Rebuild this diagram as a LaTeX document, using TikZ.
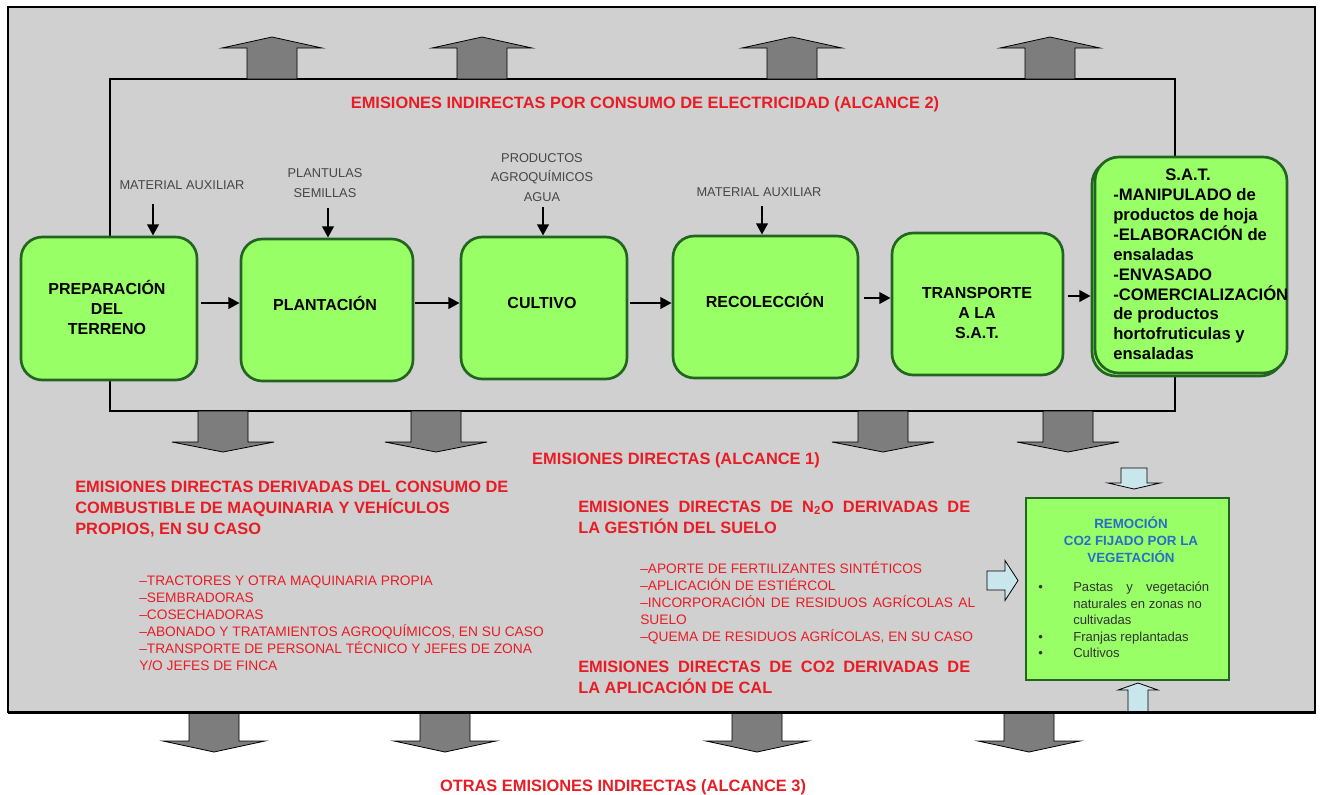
\documentclass[tikz,border=0pt]{standalone}
\usepackage{fontspec}
\setmainfont{Liberation Sans}
\usetikzlibrary{arrows.meta,calc}
\definecolor{bggray}{RGB}{208,208,208}
\definecolor{arrgray}{RGB}{125,125,125}
\definecolor{boxgreen}{RGB}{153,255,102}
\definecolor{boxline}{RGB}{35,100,35}
\definecolor{emred}{RGB}{232,28,36}
\definecolor{lblue}{RGB}{200,230,235}
\definecolor{remblue}{RGB}{40,110,200}
\definecolor{lblgray}{RGB}{70,70,70}
\newdimen\pxu \pxu=0.75pt
\newcommand\vblock[7]{% style, cx, base y, head-base y, tip y, shaft half, head half
  \filldraw[#1] ({#2-#6},#3) -- ({#2-#6},#4) -- ({#2-#7},#4) -- (#2,#5) -- ({#2+#7},#4) -- ({#2+#6},#4) -- ({#2+#6},#3) -- cycle;}
\newcommand\hblock[7]{% style, cy, base x, head-base x, tip x, shaft half, head half
  \filldraw[#1] (#3,{#2-#6}) -- (#4,{#2-#6}) -- (#4,{#2-#7}) -- (#5,#2) -- (#4,{#2+#7}) -- (#4,{#2+#6}) -- (#3,{#2+#6}) -- cycle;}
\tikzset{
  gbox/.style={draw=boxline, fill=boxgreen, line width=2pt, rounded corners=16pt, inner sep=0pt},
  gtext/.style={inner sep=0pt, align=center, font=\bfseries\fontsize{12}{15}\selectfont},
  sattext/.style={inner sep=0pt, align=left, font=\bfseries\fontsize{12.5}{14.9}\selectfont},
  rbox/.style={draw=boxline, fill=boxgreen, line width=2.2pt, inner sep=0pt},
  remt/.style={inner sep=0pt, align=center, text=remblue, font=\bfseries\fontsize{10}{13}\selectfont},
  remlist/.style={inner sep=0pt, align=left, text=black!80, font=\fontsize{9.8}{12.4}\selectfont},
  redh/.style={text=emred, inner sep=0pt, font=\bfseries\fontsize{12.3}{15.75}\selectfont},
  redi/.style={text=emred, inner sep=0pt, align=left, font=\fontsize{10.3}{12.8}\selectfont},
  lbl/.style={text=lblgray, inner sep=0pt, font=\fontsize{9.6}{14.6}\selectfont},
  flow/.style={line width=2.1pt, -{Triangle[length=8.5pt,width=8.5pt]}},
  garr/.style={fill=arrgray, draw=black, line width=0.6pt},
  barr/.style={fill=lblue, draw=black, line width=0.6pt},
}
\begin{document}
\begin{tikzpicture}[x=0.75pt,y=-0.75pt]
\useasboundingbox (0,0) rectangle (1321,794);
% outer gray frame
\filldraw[fill=bggray, draw=black, line width=0.8pt] (8,7) rectangle (1315,712);
% inner frame
\draw[line width=0.9pt] (110,79) rectangle (1175,411);
% scope 2 arrows (up)
\foreach \cx in {272,482,792,1050} {\vblock{garr}{\cx}{79}{48}{37}{25}{50}}
% scope 1 arrows (down)
\foreach \cx in {223,436,883,1068} {\vblock{garr}{\cx}{411}{442}{452}{25}{51}}
% scope 3 arrows (down)
\foreach \cx in {214,445,757,1029} {\vblock{garr}{\cx}{713}{741}{752}{25}{51}}
% light blue arrows
\vblock{barr}{1134}{468}{483}{489}{13}{26}
\hblock{barr}{580.5}{987}{1005}{1018}{9.5}{20}
\draw[line width=2.2pt] (8,712.5) -- (1316,712.5);

% process boxes
\node[gbox, minimum width=176\pxu, minimum height=143\pxu] (b1) at (109,308.5) {};
\node[gbox, minimum width=172\pxu, minimum height=142\pxu] (b2) at (327,310) {};
\node[gbox, minimum width=166\pxu, minimum height=142\pxu] (b3) at (544,308) {};
\node[gbox, minimum width=185\pxu, minimum height=142\pxu] (b4) at (765.5,307) {};
\node[gbox, minimum width=171\pxu, minimum height=142\pxu] (b5) at (977.5,304) {};
\node[gbox, rounded corners=18pt, minimum width=192\pxu, minimum height=216\pxu] (b6s) at (1188,268) {};
\node[gbox, rounded corners=18pt, minimum width=192\pxu, minimum height=216\pxu] (b6) at (1191,265) {};

\node[gtext] (b1t) at (107,307) {PREPARACIÓN\\DEL\\TERRENO};
\node[gtext] (b2t) at (325,303) {PLANTACIÓN};
\node[gtext] (b3t) at (542,303) {CULTIVO};
\node[gtext] (b4t) at (765,300) {RECOLECCIÓN};
\node[gtext] (b5t) at (977,313) {TRANSPORTE\\A LA\\S.A.T.};
\node[sattext, anchor=west] (b6t) at (1113,264.5) {\hspace*{52\pxu}S.A.T.\\-MANIPULADO de\\productos de hoja\\-ELABORACIÓN de\\ensaladas\\-ENVASADO\\-COMERCIALIZACIÓN\\de productos\\hortofruticulas y\\ensaladas};

% flow between boxes
\coordinate (r1) at (0,303);
\coordinate (r2) at (0,298);
\coordinate (r3) at (0,296);
\draw[flow, shorten <=3\pxu] (b1.east |- r1) -- (b2.west |- r1);
\draw[flow, shorten <=1\pxu] (b2.east |- r1) -- (b3.west |- r1);
\draw[flow, shorten <=2\pxu] (b3.east |- r1) -- (b4.west |- r1);
\draw[flow, shorten <=5\pxu] (b4.east |- r2) -- (b5.west |- r2);
\draw[flow, shorten <=4\pxu] (b5.east |- r3) -- (b6s.west |- r3);

% inputs
\node[lbl] (m1) at (182,185) {MATERIAL AUXILIAR};
\node[lbl, align=center] (m2) at (325,183) {PLANTULAS\\SEMILLAS};
\node[lbl, align=center] (m3) at (542,177.5) {PRODUCTOS\\AGROQUÍMICOS\\AGUA};
\node[lbl] (m4) at (759,192) {MATERIAL AUXILIAR};
\coordinate (i1) at (153,204);
\coordinate (i2) at (328,208);
\coordinate (i3) at (543,207);
\coordinate (i4) at (762,206);
\draw[flow] (i1) -- (i1 |- b1.north);
\draw[flow] (i2) -- (i2 |- b2.north);
\draw[flow] (i3) -- (i3 |- b3.north);
\draw[flow] (i4) -- (i4 |- b4.north);

% red texts
\node[redh] (t2) at (645,104) {EMISIONES INDIRECTAS POR CONSUMO DE ELECTRICIDAD (ALCANCE 2)};
\node[redh] (t1) at (676,460) {EMISIONES DIRECTAS (ALCANCE 1)};
\node[redh] (t3) at (623,787) {OTRAS EMISIONES INDIRECTAS (ALCANCE 3)};
\node[redh, align=left, anchor=west] (h1) at (75,509.5) {EMISIONES DIRECTAS DERIVADAS DEL CONSUMO DE\\COMBUSTIBLE DE MAQUINARIA Y VEHÍCULOS\\PROPIOS, EN SU CASO};
\node[redi, anchor=west] (l1) at (139,623) {–TRACTORES Y OTRA MAQUINARIA PROPIA\\–SEMBRADORAS\\–COSECHADORAS\\–ABONADO Y TRATAMIENTOS AGROQUÍMICOS, EN SU CASO\\–TRANSPORTE DE PERSONAL TÉCNICO Y JEFES DE ZONA\\Y/O JEFES DE FINCA};
\node[redh, align=left, anchor=west] (h2) at (578,517) {\makebox[392\pxu][s]{EMISIONES DIRECTAS DE N\textsubscript{2}O DERIVADAS DE}\\LA GESTIÓN DEL SUELO};
\node[redi, anchor=west] (l2) at (640,602.5) {–APORTE DE FERTILIZANTES SINTÉTICOS\\–APLICACIÓN DE ESTIÉRCOL\\\makebox[335\pxu][s]{–INCORPORACIÓN DE RESIDUOS AGRÍCOLAS AL}\\SUELO\\–QUEMA DE RESIDUOS AGRÍCOLAS, EN SU CASO};
\node[redh, align=left, anchor=west] (h3) at (578,677.5) {\makebox[392\pxu][s]{EMISIONES DIRECTAS DE CO2 DERIVADAS DE}\\LA APLICACIÓN DE CAL};

% removal box
\node[rbox, minimum width=203\pxu, minimum height=182\pxu] (rem) at (1127.5,589) {};
\vblock{barr}{1138}{712}{690}{683}{10}{20}
\draw[line width=2.2pt] (1125,712.5) -- (1152,712.5);
\node[remt] (remtt) at (1131,539.5) {REMOCIÓN\\CO2 FIJADO POR LA\\VEGETACIÓN};
\node[remlist, anchor=west] (reml) at (1038,620) {\makebox[35\pxu][l]{•}\makebox[136\pxu][s]{Pastas y vegetación}\\\hspace*{35\pxu}naturales en zonas no\\\hspace*{35\pxu}cultivadas\\\makebox[35\pxu][l]{•}Franjas replantadas\\\makebox[35\pxu][l]{•}Cultivos};
\end{tikzpicture}
\end{document}
